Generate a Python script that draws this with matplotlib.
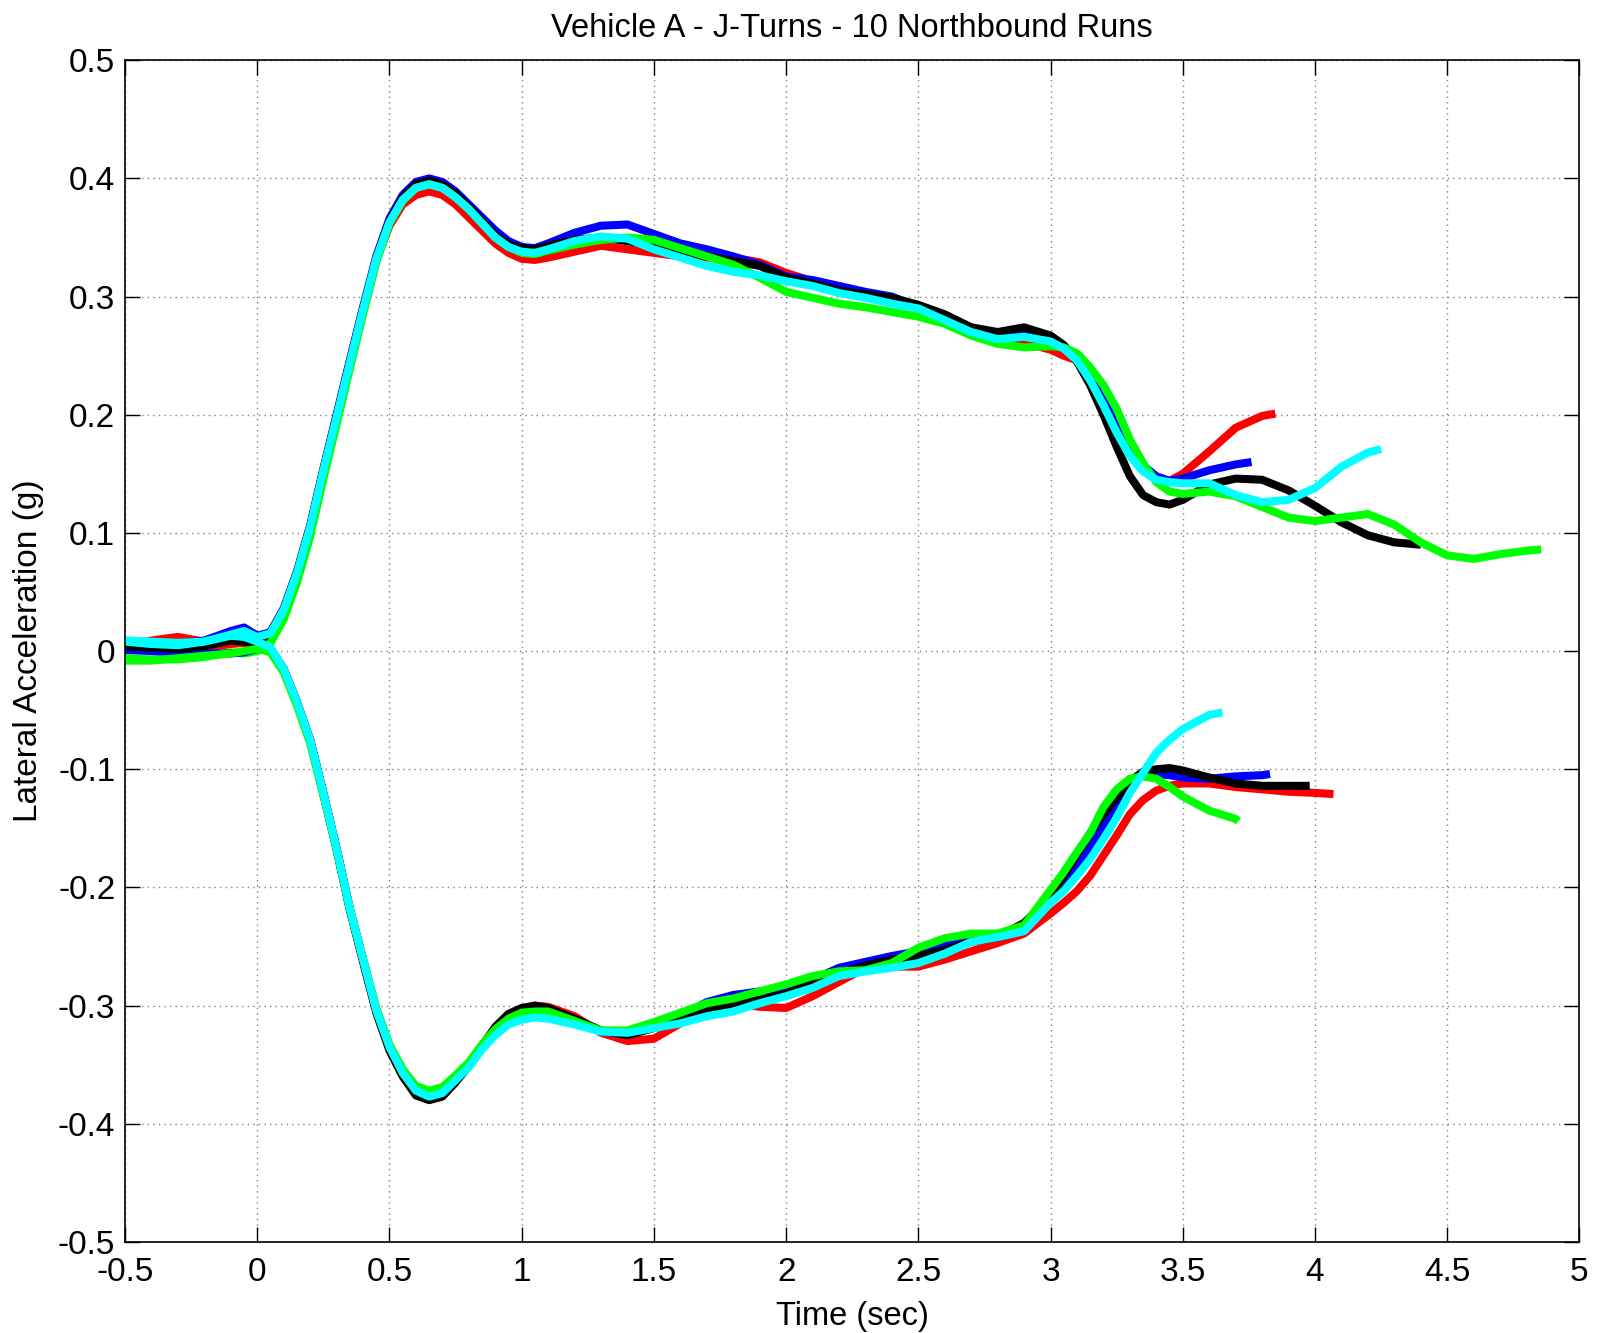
import matplotlib
matplotlib.use("Agg")
import matplotlib.pyplot as plt

plt.rcParams['font.family'] = ['Liberation Sans', 'DejaVu Sans']

# shared sample times (sec): finer where the traces bend hard
T = ([-0.5, -0.4, -0.3, -0.2, -0.1, -0.05]
     + [round(0.05 * i, 2) for i in range(23)]          # 0 .. 1.1
     + [round(1.2 + 0.1 * i, 2) for i in range(18)]     # 1.2 .. 2.9
     + [round(3.0 + 0.05 * i, 2) for i in range(11)]    # 3.0 .. 3.5
     + [round(3.6 + 0.1 * i, 2) for i in range(13)])    # 3.6 .. 4.8
# each run: values on T, last value sits at the run's own end time

# positive turns
up_red = [.005, .009, .012, .008, .010, .011,
          .010, .016, .036, .067, .106, .154, .199, .245, .289, .331, .360, .378,
          .386, .389, .386, .378, .367, .356, .345, .337, .332, .331, .333,
          .338, .343, .340, .337, .334, .333, .333, .329, .320, .313, .305, .300,
          .296, .290, .282, .274, .264, .261,
          .255, .250, .246, .232, .215, .192, .170, .155, .147, .144, .150,
          .169, .189, .199,
          .201]
up_red_end = 3.85
up_blue = [.008, .007, .006, .009, .017, .020,
           .013, .016, .036, .067, .106, .154, .200, .246, .291, .334, .366, .386,
           .397, .400, .397, .389, .378, .367, .356, .347, .342, .341, .345,
           .354, .360, .361, .353, .345, .340, .334, .327, .317, .314, .309, .304,
           .300, .291, .283, .272, .266, .269,
           .266, .258, .247, .233, .214, .193, .172, .157, .148, .144, .146,
           .153, .158,
           .160]
up_blue_end = 3.76
up_black = [.003, .002, .000, .002, .007, .009,
            .008, .014, .035, .066, .105, .153, .198, .244, .289, .332, .364, .384,
            .395, .398, .395, .387, .376, .364, .352, .344, .341, .340, .343,
            .348, .350, .347, .343, .338, .334, .330, .326, .316, .311, .305, .302,
            .299, .293, .285, .274, .270, .274,
            .267, .259, .245, .225, .200, .173, .148, .132, .126, .124, .128,
            .141, .146, .145, .136, .123, .109, .098, .092,
            .090]
up_black_end = 4.4
up_green = [-.006, -.007, -.007, -.005, -.001, -.002,
            .000, .007, .027, .058, .097, .146, .192, .239, .285, .329, .362, .381,
            .392, .395, .392, .384, .374, .362, .350, .342, .337, .336, .339,
            .344, .348, .350, .348, .341, .334, .327, .316, .304, .299, .294, .291,
            .287, .283, .277, .267, .260, .257,
            .258, .257, .252, .240, .225, .205, .179, .159, .143, .135, .133,
            .135, .131, .122, .113, .110, .113, .116, .107, .092, .081, .078, .082, .085,
            .086]
up_green_end = 4.855
up_cyan = [.009, .008, .007, .008, .014, .017,
           .012, .015, .035, .066, .105, .153, .198, .244, .289, .332, .363, .382,
           .392, .395, .392, .384, .374, .362, .350, .342, .338, .337, .340,
           .347, .351, .349, .340, .333, .326, .321, .318, .313, .309, .303, .299,
           .294, .290, .280, .270, .264, .266,
           .262, .256, .246, .229, .208, .185, .165, .152, .145, .143, .142,
           .142, .132, .126, .128, .138, .156, .168,
           .171]
up_cyan_end = 4.25

# negative turns
lo_red = [.003, .004, .005, .003, .006, .007,
          .004, .002, -.015, -.043, -.075, -.120, -.167, -.218, -.261, -.304, -.334, -.356,
          -.371, -.376, -.373, -.362, -.349, -.334, -.321, -.309, -.303, -.300, -.301,
          -.309, -.323, -.330, -.328, -.315, -.302, -.298, -.301, -.302, -.292, -.280, -.268,
          -.267, -.267, -.261, -.254, -.247, -.239,
          -.222, -.213, -.203, -.190, -.173, -.156, -.138, -.126, -.118, -.114, -.112,
          -.112, -.115, -.117, -.119, -.120,
          -.121]
lo_red_end = 4.07
lo_blue = [.001, .000, -.001, -.002, -.002, -.001,
           .002, .002, -.015, -.043, -.075, -.120, -.167, -.218, -.261, -.304, -.336, -.358,
           -.373, -.378, -.375, -.364, -.351, -.334, -.320, -.310, -.305, -.304, -.303,
           -.313, -.322, -.324, -.316, -.309, -.297, -.291, -.288, -.285, -.278, -.268, -.263,
           -.258, -.254, -.249, -.244, -.240, -.233,
           -.212, -.198, -.183, -.165, -.147, -.128, -.112, -.105, -.104, -.105, -.107,
           -.108, -.106, -.105,
           -.104]
lo_blue_end = 3.83
lo_black = [.004, .003, .002, .004, .009, .008,
            .006, .002, -.016, -.044, -.076, -.121, -.168, -.219, -.263, -.306, -.338, -.360,
            -.376, -.380, -.377, -.365, -.351, -.334, -.318, -.307, -.302, -.300, -.302,
            -.311, -.321, -.325, -.319, -.312, -.305, -.298, -.295, -.290, -.281, -.273, -.266,
            -.261, -.258, -.253, -.246, -.242, -.230,
            -.208, -.190, -.172, -.154, -.138, -.124, -.110, -.102, -.100, -.099, -.101,
            -.107, -.112, -.114, -.114,
            -.114]
lo_black_end = 3.98
lo_green = [-.008, -.008, -.006, -.004, -.002, .000,
            .002, -.001, -.018, -.046, -.078, -.122, -.168, -.218, -.260, -.302, -.333, -.354,
            -.368, -.372, -.369, -.359, -.348, -.333, -.320, -.311, -.306, -.305, -.305,
            -.313, -.321, -.321, -.314, -.306, -.298, -.294, -.288, -.282, -.275, -.271, -.270,
            -.264, -.251, -.243, -.239, -.239, -.232,
            -.202, -.187, -.170, -.154, -.132, -.117, -.108, -.106, -.108, -.115, -.123,
            -.135, -.142,
            -.144]
lo_green_end = 3.71
lo_cyan = [.008, .006, .005, .008, .013, .012,
           .008, .003, -.015, -.043, -.075, -.120, -.167, -.218, -.261, -.304, -.335, -.357,
           -.372, -.377, -.374, -.363, -.352, -.337, -.325, -.316, -.312, -.310, -.311,
           -.316, -.322, -.323, -.319, -.315, -.309, -.305, -.298, -.292, -.285, -.275, -.271,
           -.268, -.264, -.256, -.246, -.242, -.237,
           -.213, -.203, -.190, -.176, -.159, -.141, -.120, -.103, -.086, -.075, -.066,
           -.054,
           -.052]
lo_cyan_end = 3.65

xticks = [-0.5, 0, 0.5, 1, 1.5, 2, 2.5, 3, 3.5, 4, 4.5, 5]
xticklabels = ['-0.5', '0', '0.5', '1', '1.5', '2', '2.5', '3', '3.5', '4', '4.5', '5']
yticks = [-0.5, -0.4, -0.3, -0.2, -0.1, 0, 0.1, 0.2, 0.3, 0.4, 0.5]
yticklabels = ['-0.5', '-0.4', '-0.3', '-0.2', '-0.1', '0', '0.1', '0.2', '0.3', '0.4', '0.5']

# matlab colour letters
R, B, K, G, C = (1, 0, 0), (0, 0, 1), (0, 0, 0), (0, 1, 0), (0, 1, 1)

runs = [(up_red, up_red_end, R), (up_blue, up_blue_end, B), (up_black, up_black_end, K),
        (up_green, up_green_end, G), (up_cyan, up_cyan_end, C),
        (lo_red, lo_red_end, R), (lo_blue, lo_blue_end, B), (lo_black, lo_black_end, K),
        (lo_green, lo_green_end, G), (lo_cyan, lo_cyan_end, C)]

fig = plt.figure(figsize=(15.97, 13.33), dpi=100)
ax = fig.add_axes([0.0783, 0.0683, 0.9107, 0.8865])

for vals, end, col in runs:
    tt = T[:len(vals) - 1] + [end]
    ax.plot(tt, vals, color=col, lw=5.8, solid_capstyle='butt', solid_joinstyle='round')

ax.set_xlim(-0.5, 5)
ax.set_ylim(-0.5, 0.5)
ax.set_xticks(xticks)
ax.set_xticklabels(xticklabels)
ax.set_yticks(yticks)
ax.set_yticklabels(yticklabels)
ax.tick_params(direction='in', length=11, width=1, top=True, right=True, labelsize=24)
ax.tick_params(axis='x', pad=11)
ax.tick_params(axis='y', pad=7)
ax.grid(True, color='#808080', linestyle=(0, (1, 3)), lw=1)
for s in ax.spines.values():
    s.set_linewidth(1.2)

ax.set_title('Vehicle A - J-Turns - 10 Northbound Runs', fontsize=23.5, pad=17)
ax.set_xlabel('Time (sec)', fontsize=23.5, labelpad=9)
ax.set_ylabel('Lateral Acceleration (g)', fontsize=24, labelpad=10)

fig.savefig('out.png', dpi=100)
